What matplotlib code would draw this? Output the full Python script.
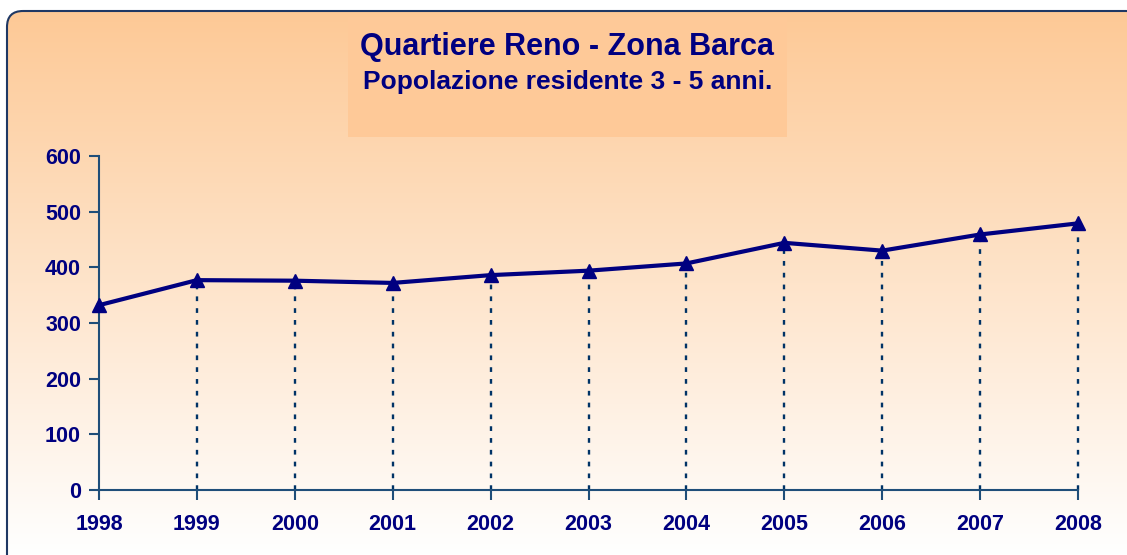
# line chart: resident population aged 3-5, Quartiere Reno - Zona Barca
import numpy as np
import matplotlib
matplotlib.use("Agg")
import matplotlib.pyplot as plt
from matplotlib.patches import FancyBboxPatch, Rectangle

years = [1998, 1999, 2000, 2001, 2002, 2003, 2004, 2005, 2006, 2007, 2008]
popolazione = [332, 377, 376, 372, 386, 394, 407, 444, 430, 459, 479]
y_ticks = [0, 100, 200, 300, 400, 500, 600]

titolo = "Quartiere Reno - Zona Barca"
sottotitolo = "Popolazione residente 3 - 5 anni."

navy = "#000080"
axis_col = "#1F4E79"

plt.rcParams['font.family'] = ['Liberation Sans', 'DejaVu Sans']

W, H = 1127, 555
fig = plt.figure(figsize=(W / 100, H / 100), dpi=100)
fig.patch.set_facecolor("white")

# background panel with vertical gradient, rounded corners
bg = fig.add_axes([0, 0, 1, 1])
bg.set_xlim(0, W)
bg.set_ylim(H, 0)
bg.axis("off")
frame = FancyBboxPatch((7, 11), 1135, 570, boxstyle="round,pad=0,rounding_size=16",
                       facecolor="none", edgecolor="#1F3864", linewidth=1.5, zorder=3)
bg.add_patch(frame)
top = np.array([0xFD, 0xC9, 0x96]) / 255
bottom = np.array([1.0, 1.0, 1.0])
t = np.linspace(0, 1, 256)[:, None]
grad = (top * (1 - t) + bottom * t)[:, None, :]
im = bg.imshow(grad, extent=(7, 1142, 555, 11), aspect="auto", zorder=1)
im.set_clip_path(frame)
bg.add_patch(Rectangle((348, 17), 439, 120, facecolor="#FEC998", edgecolor="none", zorder=2))

fig.text(0.5035, 0.915, titolo, ha="center", va="center", fontsize=22,
         fontweight="bold", color=navy)
fig.text(0.5035, 0.853, sottotitolo, ha="center", va="center", fontsize=19,
         fontweight="bold", color=navy)

# main plot
ax = fig.add_axes([99 / W, 1 - 490 / H, (1078 - 99) / W, (490 - 156) / H])
ax.set_facecolor("none")
ax.vlines(years[1:], 0, popolazione[1:], colors="#003366", linewidth=1.7,
          linestyles=(0, (2, 3)), zorder=2, clip_on=False)
ax.plot(years, popolazione, color=navy, linewidth=3, marker="^", markersize=10,
        zorder=3, clip_on=False)

ax.set_xlim(years[0], years[-1])
ax.set_ylim(0, 600)
ax.set_xticks(years)
ax.set_yticks(y_ticks)
for s in ["top", "right"]:
    ax.spines[s].set_visible(False)
for s in ["left", "bottom"]:
    ax.spines[s].set_color(axis_col)
    ax.spines[s].set_linewidth(1.5)
ax.tick_params(axis="both", direction="out", length=7, width=1.5, color=axis_col,
               labelcolor=navy, labelsize=15.5)
ax.tick_params(axis="x", pad=10)
ax.tick_params(axis="y", pad=6)
for lab in ax.get_xticklabels() + ax.get_yticklabels():
    lab.set_fontweight("bold")

fig.savefig("out.png", dpi=100)
